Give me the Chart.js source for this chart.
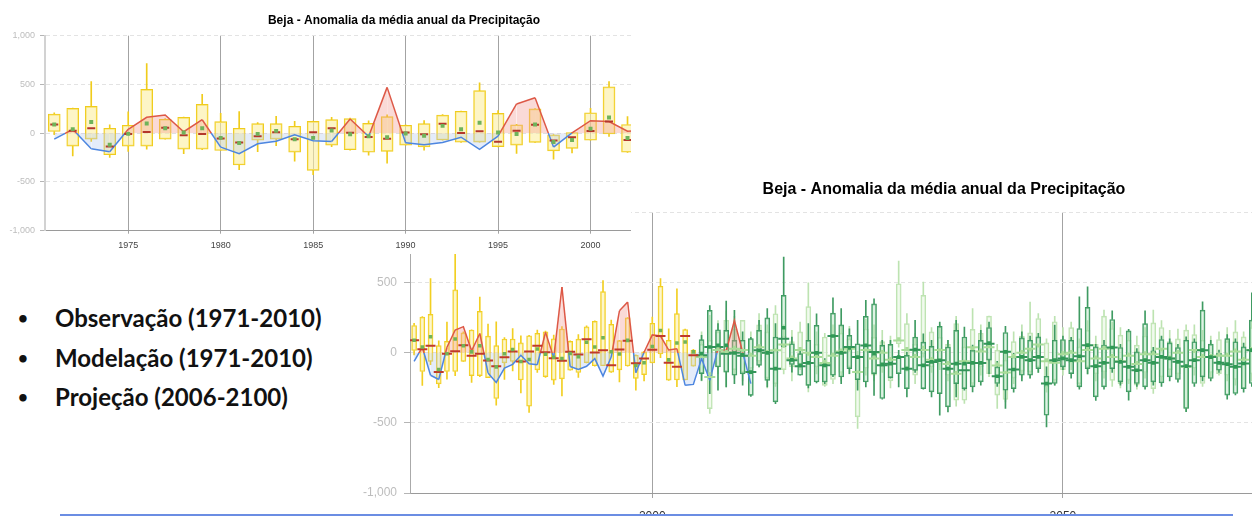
<!DOCTYPE html>
<html>
<head>
<meta charset="utf-8">
<script src="https://cdn.jsdelivr.net/npm/chart.js@4.4.1/dist/chart.umd.min.js"></script>
<style>
    html, body { margin: 0; padding: 0; background: #fff; width: 1252px; height: 517px; overflow: hidden; position: relative; }
    #box1 { position: absolute; left: 0; top: 0; width: 631px; height: 254px; overflow: hidden; background: #fff; z-index: 2; }
    #box2 { position: absolute; left: 355px; top: 170px; width: 897px; height: 345px; overflow: hidden; background: #fff; z-index: 1; }
    .item { position: absolute; left: 0; height: 30px; line-height: 30px; font-family: Lato, "Open Sans", sans-serif; font-weight: 700; font-size: 24px; color: #111; z-index: 3; white-space: nowrap; }
    .item .dot { position: absolute; left: 18px; font-size: 17px; }
    .item .txt { position: absolute; left: 55px; }
    #rule { position: absolute; left: 60px; top: 514px; width: 1173px; height: 2px; background: #6b8de3; z-index: 4; }
</style>
</head>
<body>
<div id="box1"><canvas id="c1" width="808" height="260"></canvas></div>
<div id="box2"><canvas id="c2" width="1178" height="370"></canvas></div>
<div class="item" style="top:303px"><span class="dot">•</span><span class="txt">Observação (1971-2010)</span></div>
<div class="item" style="top:343px"><span class="dot">•</span><span class="txt">Modelação (1971-2010)</span></div>
<div class="item" style="top:382px"><span class="dot">•</span><span class="txt">Projeção (2006-2100)</span></div>
<div id="rule"></div>
<script>
const TITLE = 'Beja - Anomalia da média anual da Precipitação';

function range(a, b) { const r = []; for (let y = a; y <= b; y++) r.push(y); return r; }

// modelação (caixas amarelas) 1971-2005
const modelYears = range(1971, 2005);
const modelLow  = [-15,-232,-85,-248,-187,-163,-61,-211,-170,-177,-374,-190,-129,-286,-425,-139,-175,-226,-308,-123,-175,-71,-95,-92,-140,-208,-95,-266,-201,-72,-34,-196,-242,-194,-95];
const modelQ1   = [17,-133,-61,-221,-133,-133,-61,-163,-163,-177,-326,-71,-61,-194,-381,-122,-170,-195,-186,-123,-140,-70,-92,-92,-138,-122,-94,-182,-155,-72,-8,-195,-194,-194,-95];
const modelMed  = [90,26,50,-136,-7,12,55,-20,-7,-54,-95,-31,10,-61,10,51,5,-38,-57,8,-12,97,2,19,-88,24,86,-75,-41,22,121,-70,-100,121,-17];
const modelQ3   = [195,255,275,51,82,449,143,163,296,119,51,99,99,71,122,139,150,100,170,82,98,185,225,437,203,87,249,-17,7,210,475,89,280,166,19];
const modelHigh = [210,258,530,85,220,714,150,165,398,205,221,109,173,122,125,163,155,126,188,85,130,192,228,516,233,90,252,-15,10,255,530,171,457,170,25];
const modelMean = [90,42,115,-119,-7,99,51,7,51,-48,-100,-7,24,-61,-48,27,-10,-32,-41,-4,-27,75,41,107,8,-8,89,-90,-70,45,160,-50,71,78,7];

// observação
const obsYears  = range(1971, 2012);
const obsValues = [-60,40,-160,-190,40,163,187,15,138,-143,-211,-109,-82,-17,-78,-85,146,-34,470,-98,-118,-96,-41,-166,-30,300,363,-142,4,128,120,20,30,-232,-225,-40,-196,30,15,231,5,-220];

// projeção, 2006-2073 (parte visível)
const projYears = range(2006, 2073);
const darkLow  = [-196,-291,-267,-243,-220,-230,-310,-100,-243,-362, 42,-137,-160,-250,-215,-220,-170,-220,-148,-267, -243,-303,-330,-180,-243,-315,-140,-260,-315,-445, -422,-315,-267,-278,-230,-148,-240,-397,-280,-200, -180,-140,-528,-230,-120,-180,-260,-150,-340,-260, -140,-230,-338,-240,-260,-230,-240,-200,-210,-420, -240,-200,-200,-140,-330,-300,-280,-240];
const darkQ1   = [-148,-172,-101,-137,-160,-150,-303,-89,-196,-350, 42,-83,-160,-232,-208,-208,-160,-172,-113,-191, -208,-148,-326,-177,-148,-255,-125,-255,-279,-291, -386,-220,-255,-243,-207,-52,-219,-267,-255,-160, -160,-112,-445,-219,-100,-148,-243,-112,-314,-243, -112,-207,-278,-219,-243,-207,-214,-171,-190,-397, -219,-171,-183,-124,-302,-290,-255,-219];
const darkMed  = [-18,42,42,-6,0,-20,-137,18,0,-113, 101,-53,-96,-72,0,-89,120,0,42,-30, 53,6,-89,-77,-30,-113,23,-89,-65,-53, -113,-77,-125,-72,-72,65,-167,7,-119,-29, -52,-29,-219,-52,-40,-52,-24,55,-95,-71, 38,-64,-100,-124,-52,-71,-29,-40,-64,-95, -52,19,-30,-71,-81,-100,-76,19];
const darkQ3   = [94,303,165,160,89,90,101,160,250,113, 410,65,-6,89,196,-65,284,200,125,65, 260,350,53,61,-25,-18,113,77,46,189, 42,160,113,18,89,181,-100,145,-29,107, 90,114,-167,90,95,90,174,324,43,55, 238,38,157,7,209,14,95,71,38,90, 79,305,62,0,102,79,43,233];
const darkHigh = [125,338,208,369,303,150,110,232,315,208, 683,113,18,208,279,-40,393,315,172,232, 374,386,89,89,18,6,232,136,89,220, 89,232,184,55,160,220,-60,190,0,150, 120,140,-100,198,120,110,400,471,60,90, 300,60,167,30,300,40,120,100,60,115, 100,364,90,20,130,100,70,428];
const darkMean = [-6,42,53,53,-1,-15,-137,18,0,-113, 179,-50,-89,-72,0,-89,120,0,36,-30, 53,-6,-82,-77,-30,-113,23,-89,-65,-53, -113,-77,-77,-72,-72,70,-167,7,-119,-29, -52,-29,-219,-52,-40,-52,-24,55,-95,-71, 38,-64,-100,-124,-52,-71,-29,-40,-64,-95, -52,19,-30,-71,-81,-100,-76,19];

const lightLow  = [-200,-433,-150,-243,-180,-200,-150,-100,-250,-240, -150,-200,-120,-279,-150,-240,-220,-200,-150,-540, -160,-200,-140,-250,40,-130,-220,-30,-140,-120, -200,-380,-360,-240,-160,-170,-397,-350,-220,-180, -180,-140,-280,-230,-160,-120,-250,-150,-200,-180, -240,-250,-220,-260,-180,-290,-200,-160,-200,-420, -160,-240,-180,-160,-200,-230,-255,-200];
const lightQ1   = [-150,-398,-100,-137,-120,-137,-110,-60,-180,-220, -120,-100,-80,-233,-100,-232,-190,-140,-100,-457, -110,-160,-100,-200,65,-101,-160,-6,-100,-80, -160,-338,-338,-219,-100,-148,-302,-333,-180,-130, -136,-100,-243,-195,-120,-70,-220,-100,-150,-136, -196,-220,-195,-231,-140,-255,-171,-120,-150,-397, -110,-219,-140,-148,-160,-190,-255,-150];
const lightMed  = [-30,-172,20,5,30,20,-20,40,0,18, 60,-40,20,0,-30,-72,-20,10,30,-137, 20,-40,0,-50,89,20,-30,20,-50,20, -80,-150,-60,40,10,40,-90,-140,-30,0, 30,60,-60,-70,-10,0,-60,20,-40,30, -30,-60,-20,-80,-10,-10,30,-40,0,-100, 20,-30,-30,-20,-20,10,-50,20];
const lightQ3   = [60,89,150,232,170,232,100,200,150,279, 120,80,150,330,60,113,130,140,100,-30, 170,110,80,60,493,208,60,410,150,110, 60,208,43,167,140,262,19,-52,80,120, 143,245,71,221,90,180,43,160,60,262, 174,126,90,55,120,214,181,80,100,162, 130,90,60,95,80,150,114,180];
const lightHigh = [150,267,230,300,260,232,150,280,200,338, 200,160,220,500,150,140,200,200,190,10, 240,200,160,120,654,280,140,505,180,200, 90,260,100,315,200,262,60,20,150,200, 362,280,100,260,180,220,100,230,120,305, 220,180,150,120,180,305,230,160,170,200, 200,160,120,150,180,230,150,250];
const lightMean = [-20,-150,30,10,40,15,-10,50,10,20, 50,-30,30,-10,-20,-60,-10,20,20,-137, 20,-30,10,-40,100,30,-20,40,-40,20, -70,-140,-60,30,20,50,-80,-140,-20,10, 20,50,-50,-60,0,10,-50,30,-30,40, -20,-50,-10,-70,0,0,20,-30,10,-90, 10,-20,-20,-10,-10,20,-40,30];

const yTicks = [-1000, -500, 0, 500, 1000];
const xTicks1 = [1975, 1980, 1985, 1990, 1995, 2000, 2005, 2010];
const xTicks2 = [2000, 2050, 2100];

const OBS_UP = '#dd5846';
const OBS_DN = '#4d86e0';
const FONT = '"Liberation Sans", Arial, sans-serif';

const model = { low: modelLow, q1: modelQ1, med: modelMed, q3: modelQ3, high: modelHigh, mean: modelMean };
const dark  = { low: darkLow,  q1: darkQ1,  med: darkMed,  q3: darkQ3,  high: darkHigh,  mean: darkMean };
const light = { low: lightLow, q1: lightQ1, med: lightMed, q3: lightQ3, high: lightHigh, mean: lightMean };

// caixa = bigodes (abaixo e acima) + caixa + mediana + media
function boxSets(years, s, st) {
    const whisker = (a, b) => ({
        type: 'bar', data: years.map((x, i) => ({ x, y: [a[i], b[i]] })),
        backgroundColor: st.line, barThickness: 1, maxBarThickness: 1, grouped: false, order: st.order + 1
    });
    return [
        whisker(s.low, s.q1),
        whisker(s.q3, s.high),
        { type: 'bar', data: years.map((x, i) => ({ x, y: [s.q1[i], s.q3[i]] })),
          backgroundColor: st.fill, borderColor: st.line, borderWidth: 1, borderSkipped: false,
          barThickness: st.boxW, maxBarThickness: st.boxW, grouped: false, order: st.order },
        { type: 'scatter', data: years.map((x, i) => ({ x, y: s.med[i] })),
          pointStyle: 'line', pointRadius: st.medR, pointBorderColor: st.med, pointBorderWidth: 2, order: st.medOrder },
        { type: 'scatter', data: years.map((x, i) => ({ x, y: s.mean[i] })),
          pointStyle: 'rect', pointRadius: st.dotR, pointBackgroundColor: st.dot, pointBorderWidth: 0, order: st.dotOrder }
    ];
}

function segColor(c) {
    const a = obsValues[c.p0DataIndex], b = obsValues[c.p1DataIndex];
    if (a >= 0 && b >= 0) return OBS_UP;
    if (a <= 0 && b <= 0) return OBS_DN;
    const t = a / (a - b);
    const ca = a > 0 ? OBS_UP : OBS_DN, cb = b > 0 ? OBS_UP : OBS_DN;
    const g = c.chart.ctx.createLinearGradient(c.p0.x, c.p0.y, c.p1.x, c.p1.y);
    g.addColorStop(0, ca); g.addColorStop(t, ca); g.addColorStop(t, cb); g.addColorStop(1, cb);
    return g;
}

function obsSet(order) {
    return {
        type: 'line', data: obsYears.map((x, i) => ({ x, y: obsValues[i] })),
        borderWidth: 1.5, pointRadius: 0, tension: 0,
        fill: { target: 'origin', above: 'rgba(240,150,140,0.35)', below: 'rgba(170,195,240,0.32)' },
        segment: { borderColor: segColor }, order
    };
}

function makeOptions(cfg) {
    return {
        responsive: false, animation: false, events: [],
        plugins: {
            legend: { display: false }, tooltip: { enabled: false },
            title: { display: true, text: TITLE, color: '#000',
                     font: { family: FONT, size: cfg.titleSize, weight: 'bold' },
                     padding: { top: cfg.titleTop, bottom: cfg.titleBottom } }
        },
        scales: {
            x: {
                type: 'linear', min: cfg.xMin, max: cfg.xMax, offset: false,
                afterBuildTicks: ax => { ax.ticks = cfg.xTicks.map(v => ({ value: v })); },
                afterFit: ax => { ax.height = cfg.xHeight; },
                grid: { color: '#a3a3a3', lineWidth: 1, offset: false, tickLength: cfg.xTickLen, tickColor: '#a3a3a3' },
                border: { color: '#9a9a9a', width: 1 },
                ticks: { font: { family: FONT, size: cfg.xFont }, color: cfg.xColor, padding: cfg.xPad,
                         maxRotation: 0, autoSkip: false, callback: v => String(v) }
            },
            y: {
                min: -1000, max: 1000,
                afterBuildTicks: ax => { ax.ticks = yTicks.map(v => ({ value: v })); },
                afterFit: ax => { ax.width = cfg.yWidth; },
                grid: { color: '#e3e3e3', tickColor: '#b5b5b5', tickLength: cfg.yTickLen, tickBorderDash: [] },
                border: { dash: [4, 3], color: cfg.yBorder, width: cfg.yBorderW },
                ticks: { font: { family: FONT, size: cfg.yFont }, color: '#bdbdbd', padding: cfg.yPad,
                         callback: v => v.toLocaleString('en-US') }
            },
            yR: {
                position: 'right', display: true,
                afterFit: ax => { ax.width = cfg.rightWidth; },
                grid: { display: false, drawOnChartArea: false },
                ticks: { display: false }, border: { display: false }
            }
        }
    };
}

const yellow1 = { line: '#f0cc1c', fill: 'rgba(252,238,160,0.6)', med: '#b4372b', dot: '#6fb35a',
                  boxW: 12, medR: 4, dotR: 2.8, order: 10, medOrder: 3, dotOrder: 1 };

new Chart(document.getElementById('c1'), {
    type: 'bar',
    data: { datasets: [...boxSets(modelYears, model, yellow1), obsSet(5)] },
    options: makeOptions({
        titleSize: 12, titleTop: 13.4, titleBottom: 7.9,
        xMin: 1970.5, xMax: 2010.5, xTicks: xTicks1, xHeight: 29.3, xTickLen: 3, xFont: 9, xColor: '#444', xPad: 6,
        yWidth: 45, yTickLen: 5, yFont: 9, yPad: 5, yBorder: '#d2d2d2', yBorderW: 2, rightWidth: 23.3
    })
});

const yellow2 = { line: '#f2cf22', fill: 'rgba(252,238,160,0.55)', med: '#c0392b', dot: '#6fb35a',
                  boxW: 5, medR: 5, dotR: 2.5, order: 14, medOrder: 4, dotOrder: 2 };
const lightSt = { line: '#bde3b1', fill: 'rgba(220,242,212,0.4)', med: '#a9dc9a', dot: '#a9dc9a',
                  boxW: 5, medR: 5.5, dotR: 2.2, order: 20, medOrder: 6, dotOrder: 3 };
const darkSt  = { line: '#3f9b62', fill: 'rgba(160,220,178,0.35)', med: '#34945a', dot: '#2f9a55',
                  boxW: 5, medR: 5.5, dotR: 2.6, order: 17, medOrder: 5, dotOrder: 1 };

new Chart(document.getElementById('c2'), {
    type: 'bar',
    data: { datasets: [
        ...boxSets(projYears, light, lightSt),
        ...boxSets(projYears, dark, darkSt),
        ...boxSets(modelYears, model, yellow2),
        obsSet(8)
    ] },
    options: makeOptions({
        titleSize: 16, titleTop: 10.4, titleBottom: 13.1,
        xMin: 1970.5, xMax: 2100.5, xTicks: xTicks2, xHeight: 47, xTickLen: 5, xFont: 12, xColor: '#333', xPad: 11,
        yWidth: 55, yTickLen: 6, yFont: 12, yPad: 7, yBorder: '#aaaaaa', yBorderW: 1, rightWidth: 55.3
    })
});
</script>
</body>
</html>
